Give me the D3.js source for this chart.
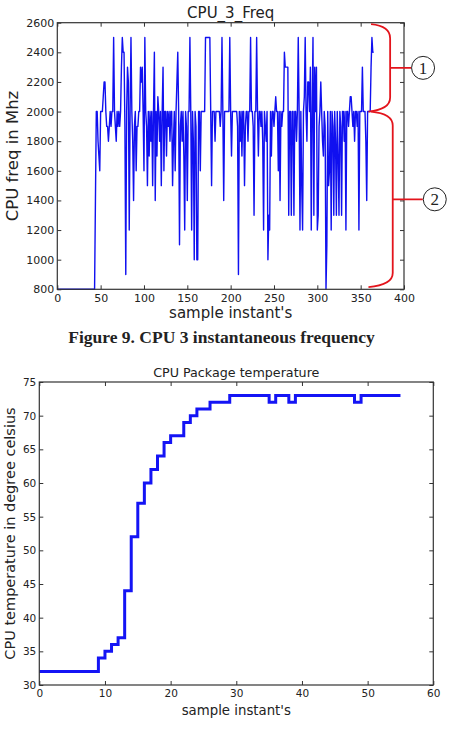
<!DOCTYPE html>
<html>
<head>
<meta charset="utf-8">
<script src="https://cdn.jsdelivr.net/npm/d3@7"></script>
<style>
  body { margin: 0; background: #fff; }
  svg { display: block; }
  text { font-family: "DejaVu Sans", sans-serif; fill: #222; }
</style>
</head>
<body>
<div id="draw_area"></div>
<script>
// CPU 3 frequency, one value per sample instant (0..365)
var freqValues = [
	800, 800, 800, 800, 800, 800, 800, 800, 800, 800,
	800, 800, 800, 800, 800, 800, 800, 800, 800, 800,
	800, 800, 800, 800, 800, 800, 800, 800, 800, 800,
	800, 800, 800, 800, 800, 800, 800, 800, 800, 800,
	800, 800, 800, 800, 1400,
	2000, 2000, 1800, 1700, 1600, 2000, 2000, 2000, 2100, 2200,
	2200, 2000, 1900, 1900, 1800, 1900, 2000, 1900, 2000, 2000,
	2500, 2000, 1900, 1800, 2000, 1900, 2000, 1900, 2000, 2300,
	2500, 2400, 2400, 1900, 900, 2000, 2300, 2200, 1200, 2000,
	2500, 2000, 1800, 1400, 1900, 2000, 1600, 1900, 1900, 2000,
	2000, 2300, 2200, 2300, 2000, 1600, 2500, 2000, 1900, 1500,
	2000, 1700, 2000, 1800, 2000, 1500, 2000, 2400, 1400, 2000,
	1700, 2100, 2000, 1800, 2000, 1500, 2000, 2300, 1600, 2000,
	2000, 1700, 2000, 1900, 2000, 1800, 2000, 2000, 1500, 1800,
	2000, 1600, 2000, 2200, 2400, 2000, 1100, 1900, 2000, 1800,
	2000, 1700, 1200, 2000, 1900, 1400, 2000, 2000, 2500, 2000,
	1200, 2000, 1800, 1000, 2000, 1900, 1000, 1000, 2000, 2000,
	1600, 2000, 2000, 2000, 2000, 2000, 2500, 2500, 2500, 2500,
	2500, 2500, 2000, 1500, 2000, 2000, 2000, 1800, 2000, 2000,
	2000, 2000, 2000, 1900, 2000, 2500, 2000, 1400, 2000, 2000,
	2000, 2000, 2000, 2000, 2500, 2000, 1700, 2000, 2000, 2000,
	2000, 2000, 2000, 1900, 900, 2000, 1800, 2000, 1700, 2000,
	2000, 1500, 1900, 2000, 2000, 1800, 2000, 2000, 2500, 2000,
	2000, 1900, 1300, 2000, 2000, 2500, 2000, 1700, 2000, 2000,
	1900, 2000, 1800, 1200, 2000, 1900, 1800, 2000, 1000, 1300,
	1200, 2000, 1700, 2000, 2000, 1900, 2000, 2100, 2000, 2000,
	1600, 2000, 1400, 2000, 1900, 2000, 2000, 2400, 2300, 2300,
	2300, 2300, 1300, 2000, 2000, 1300, 2000, 2000, 1300, 2000,
	2000, 1800, 2000, 2500, 2000, 1200, 2000, 1500, 1200, 2000,
	2100, 2500, 2000, 1800, 2200, 2200, 2000, 2300, 1200, 2000,
	2500, 1300, 2300, 2000, 2300, 1200, 1300, 1900, 2000, 2200,
	2000, 1800, 1700, 2000, 1900, 800, 1100, 2000, 1500, 1600,
	2000, 1200, 2000, 1900, 1300, 2000, 1800, 1300, 2000, 1700,
	1300, 2000, 1900, 1300, 2000, 2000, 1800, 2000, 1200, 2000,
	2000, 1900, 2000, 2100, 2100, 2000, 1900, 2000, 1800, 2000,
	2000, 1900, 2000, 1200, 2000, 2000, 2000, 2300, 2000, 2000,
	2000, 1800, 1400, 2000, 2000, 2000, 2000, 2300, 2500, 2400, 2400
]
var freqXTicks = [0, 50, 100, 150, 200, 250, 300, 350, 400]
var freqYTicks = [800, 1000, 1200, 1400, 1600, 1800, 2000, 2200, 2400, 2600]

// CPU package temperature, one value per sample instant (0..55), held until the next sample
var tempValues = [
	32, 32, 32, 32, 32, 32, 32, 32, 32, 34,
	35, 36, 37, 44, 52, 57, 60, 62, 64, 66,
	67, 67, 69, 70, 71, 71, 72, 72, 72, 73,
	73, 73, 73, 73, 73, 72, 73, 73, 72, 73,
	73, 73, 73, 73, 73, 73, 73, 73, 72, 73,
	73, 73, 73, 73, 73, 73
]
var tempXTicks = [0, 10, 20, 30, 40, 50, 60]
var tempYTicks = [30, 35, 40, 45, 50, 55, 60, 65, 70, 75]

// brace annotations on the frequency chart: [from, to, label]
var braces = [
	[2590, 2000, '1'],
	[2000, 815, '2']
]

var W = 453, H = 733
var svg = d3.select('#draw_area').append('svg')
	.attr('width', W)
	.attr('height', H)
svg.append('rect').attr('width', W).attr('height', H).attr('fill', '#fff')

function drawFrame(g, x, y, xTicks, yTicks, fontSize) {
	let x0 = x.range()[0], x1 = x.range()[1]
	let y0 = y.range()[0], y1 = y.range()[1]
	let fmt = d3.format('d')
	// inward ticks on every side, labels only bottom and left
	g.append('g').attr('transform', `translate(0,${y0})`)
		.call(d3.axisBottom(x).tickValues(xTicks).tickFormat(fmt).tickSize(-4).tickPadding(5))
	g.append('g').attr('transform', `translate(0,${y1})`)
		.call(d3.axisTop(x).tickValues(xTicks).tickSize(-4).tickFormat(''))
	g.append('g').attr('transform', `translate(${x0},0)`)
		.call(d3.axisLeft(y).tickValues(yTicks).tickFormat(fmt).tickSize(-4).tickPadding(3))
	g.append('g').attr('transform', `translate(${x1},0)`)
		.call(d3.axisRight(y).tickValues(yTicks).tickSize(-4).tickFormat(''))
	g.selectAll('.domain').remove()
	g.selectAll('.tick line').attr('stroke', '#333').attr('stroke-width', 1)
	g.selectAll('.tick text')
		.style('font-family', '"DejaVu Sans", sans-serif')
		.style('font-size', fontSize + 'px')
		.attr('fill', '#222')
	g.append('rect')
		.attr('x', x0).attr('y', y1)
		.attr('width', x1 - x0).attr('height', y0 - y1)
		.attr('fill', 'none').attr('stroke', '#333').attr('stroke-width', 1.2)
}

//#region Frequency chart
let xF = d3.scaleLinear().domain([0, 400]).range([57.3, 404])
let yF = d3.scaleLinear().domain([800, 2600]).range([289.3, 22.7])
let gF = svg.append('g')

gF.append('path')
	.datum(freqValues)
	.attr('fill', 'none')
	.attr('stroke', '#1010f0')
	.attr('stroke-width', 1.4)
	.attr('stroke-linejoin', 'round')
	.attr('d', d3.line().x((d, i) => xF(i)).y((d) => yF(d)))

drawFrame(gF, xF, yF, freqXTicks, freqYTicks, 11)

gF.append('text')
	.attr('x', 230.7).attr('y', 18.3)
	.attr('text-anchor', 'middle')
	.style('font-size', '15px')
	.text('CPU_3_Freq')
gF.append('text')
	.attr('x', 230.7).attr('y', 318)
	.attr('text-anchor', 'middle')
	.style('font-size', '15px')
	.text("sample instant's")
gF.append('text')
	.attr('transform', 'translate(18,156) rotate(-90)')
	.attr('text-anchor', 'middle')
	.style('font-size', '16.5px')
	.text('CPU freq in Mhz')

// red braces with circled numbers
let spine = [xF(384), xF(387)]
braces.forEach((b, k) => {
	let ya = yF(b[0]), yb = yF(b[1])
	let sx = spine[k]
	let tipA = xF(362), tipB = xF(359)
	let bend = 14
	let p = d3.path()
	p.moveTo(tipA, ya)
	p.quadraticCurveTo(sx, ya + 2, sx, ya + bend)
	p.lineTo(sx, yb - bend)
	p.quadraticCurveTo(sx, yb - 2, tipB, yb)
	let ym = (ya + yb) / 2
	let cx = k === 0 ? xF(422) : xF(435.5)
	p.moveTo(sx, ym)
	p.lineTo(cx - 12, ym)
	gF.append('path').attr('d', p.toString())
		.attr('fill', 'none').attr('stroke', '#e3141c').attr('stroke-width', 1.8)
	gF.append('circle').attr('cx', cx).attr('cy', ym).attr('r', 11.5)
		.attr('fill', '#fff').attr('stroke', '#222').attr('stroke-width', 1)
	gF.append('text').attr('x', cx).attr('y', ym + 6)
		.attr('text-anchor', 'middle')
		.style('font-family', '"Liberation Serif", serif')
		.style('font-size', '17px')
		.text(b[2])
})
//#endregion

// caption
svg.append('text')
	.attr('x', 221.5).attr('y', 343)
	.attr('text-anchor', 'middle')
	.style('font-family', '"Liberation Serif", serif')
	.style('font-weight', 'bold')
	.style('font-size', '17.5px')
	.attr('fill', '#111')
	.text('Figure 9. CPU 3 instantaneous frequency')

//#region Temperature chart
let xT = d3.scaleLinear().domain([0, 60]).range([39.3, 433.3])
let yT = d3.scaleLinear().domain([30, 75]).range([685, 382])
let gT = svg.append('g')

gT.append('path')
	.datum(tempValues)
	.attr('fill', 'none')
	.attr('stroke', '#1414f5')
	.attr('stroke-width', 3)
	.attr('d', d3.line().curve(d3.curveStepAfter).x((d, i) => xT(i)).y((d) => yT(d)))

drawFrame(gT, xT, yT, tempXTicks, tempYTicks, 10.5)

gT.append('text')
	.attr('x', 236.3).attr('y', 377)
	.attr('text-anchor', 'middle')
	.style('font-size', '12.7px')
	.text('CPU Package temperature')
gT.append('text')
	.attr('x', 236.3).attr('y', 715)
	.attr('text-anchor', 'middle')
	.style('font-size', '13.3px')
	.text("sample instant's")
gT.append('text')
	.attr('transform', 'translate(15,533.5) rotate(-90)')
	.attr('text-anchor', 'middle')
	.style('font-size', '14.5px')
	.text('CPU temperature in degree celsius')
//#endregion
</script>
</body>
</html>
